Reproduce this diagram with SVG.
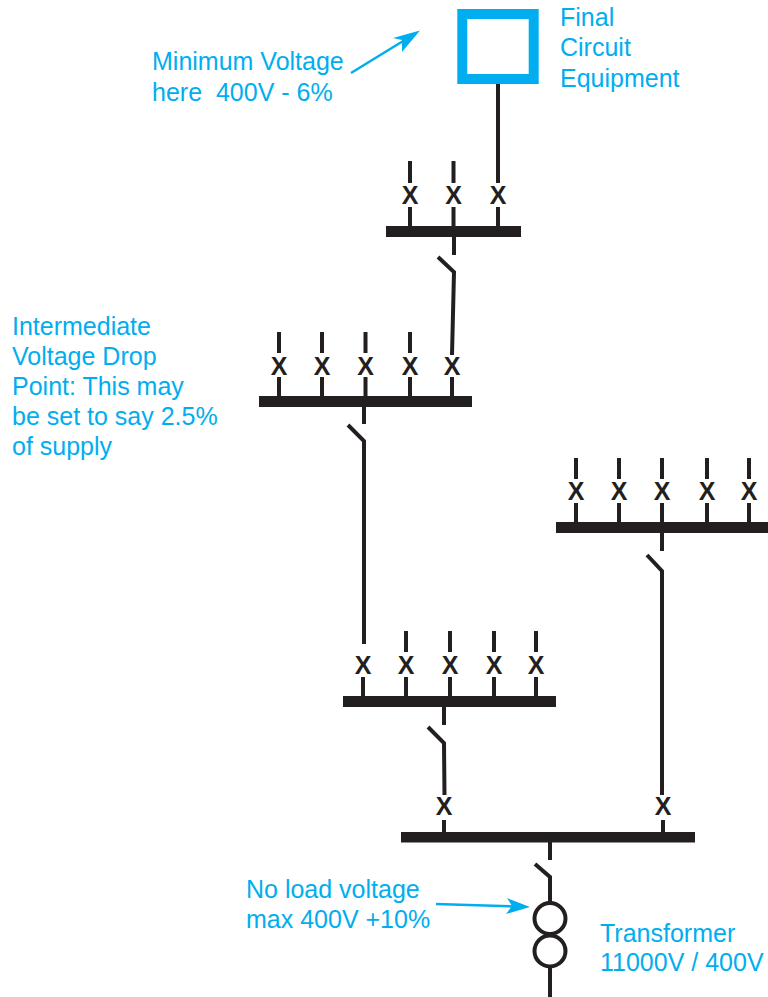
<svg xmlns="http://www.w3.org/2000/svg" width="768" height="997" viewBox="0 0 768 997">
<style>
.l{font-family:"Liberation Sans",Arial,sans-serif;font-size:25px;fill:#00aeef}
.x{font-family:"Liberation Sans",Arial,sans-serif;font-size:25px;font-weight:700;fill:#231f20;text-anchor:middle}
.w{stroke:#231f20;stroke-width:4;fill:none}
.b{fill:#231f20}
.a{stroke:#00aeef;stroke-width:2.500;fill:none}
.h{fill:#00aeef}
</style>
<rect width="768" height="997" fill="#fff"/>
<g id="connectors">
<path class="w" d="M498 84V183M410 161V183M453.5 161V183M410 207V226M453.5 207V226M498 207V226"/>
<path class="w" d="M454 237V255M438 257L454 272L452 355M279 332V353M322 332V353M365.500 332V353M410 332V353M279 377V396M322 377V396M365.500 377V396M410 377V396M452 377V396"/>
<path class="w" d="M364 407V424M348 425L364 441V644M406 631V652M450 631V652M494 631V652M536 631V652M363 677V696M406 677V696M450 677V696M494 677V696M536 677V696"/>
<path class="w" d="M576 458V479M619 458V479M662 458V479M707 458V479M749 458V479M576 503V522M619 503V522M662 503V522M707 503V522M749 503V522"/>
<path class="w" d="M662 533V551M647 555L662 571V795M444 707V725M428 727L444 743L444.500 795M444 820V832M663 820V832"/>
<path class="w" d="M550 842V860M535 864L550 877V903M550 967V997"/>
<path class="a" d="M351 73L408 38M436 904L515 906.500"/>
<polygon class="h" points="420,30.500 393,38 402,40 402,52"/>
<polygon class="h" points="530,907 507,898 512,906 506,914"/>
</g>
<g id="final-circuit-equipment">
<rect x="462.300" y="14" width="71.400" height="65" fill="#fff" stroke="#00aeef" stroke-width="10"/>
<text class="l" x="560" y="26">Final</text>
<text class="l" x="560" y="56">Circuit</text>
<text class="l" x="560" y="87">Equipment</text>
</g>
<g id="minimum-voltage">
<text class="l" x="152" y="70">Minimum Voltage</text>
<text class="l" x="152" y="101" xml:space="preserve">here  400V - 6%</text>
</g>
<g id="board-1">
<rect class="b" x="386" y="226" width="135" height="11"/>
<text class="x" x="410" y="204">X</text><text class="x" x="453.500" y="204">X</text><text class="x" x="498" y="204">X</text>
</g>
<g id="board-2">
<rect class="b" x="259" y="396" width="213" height="11"/>
<text class="x" x="279" y="375">X</text><text class="x" x="322" y="375">X</text><text class="x" x="365.500" y="375">X</text><text class="x" x="410" y="375">X</text><text class="x" x="452" y="375">X</text>
</g>
<g id="intermediate-voltage-drop">
<text class="l" x="12" y="335">Intermediate</text>
<text class="l" x="12" y="365">Voltage Drop</text>
<text class="l" x="12" y="395">Point: This may</text>
<text class="l" x="12" y="425">be set to say 2.5%</text>
<text class="l" x="12" y="455">of supply</text>
</g>
<g id="board-3">
<rect class="b" x="556" y="522" width="212" height="11"/>
<text class="x" x="576" y="500">X</text><text class="x" x="619" y="500">X</text><text class="x" x="662" y="500">X</text><text class="x" x="707" y="500">X</text><text class="x" x="749" y="500">X</text>
</g>
<g id="board-4">
<rect class="b" x="343" y="696" width="213" height="11"/>
<text class="x" x="363" y="674">X</text><text class="x" x="406" y="674">X</text><text class="x" x="450" y="674">X</text><text class="x" x="494" y="674">X</text><text class="x" x="536" y="674">X</text>
</g>
<g id="main-board">
<rect class="b" x="401" y="832" width="294" height="10.500"/>
<text class="x" x="444" y="815">X</text><text class="x" x="663" y="815">X</text>
</g>
<g id="no-load-voltage">
<text class="l" x="246" y="898">No load voltage</text>
<text class="l" x="246" y="928">max 400V +10%</text>
</g>
<g id="transformer">
<circle class="w" cx="550" cy="918.500" r="15.500"/>
<circle class="w" cx="550" cy="951" r="15.500"/>
<text class="l" x="600" y="942">Transformer</text>
<text class="l" x="600" y="971">11000V / 400V</text>
</g>
</svg>
